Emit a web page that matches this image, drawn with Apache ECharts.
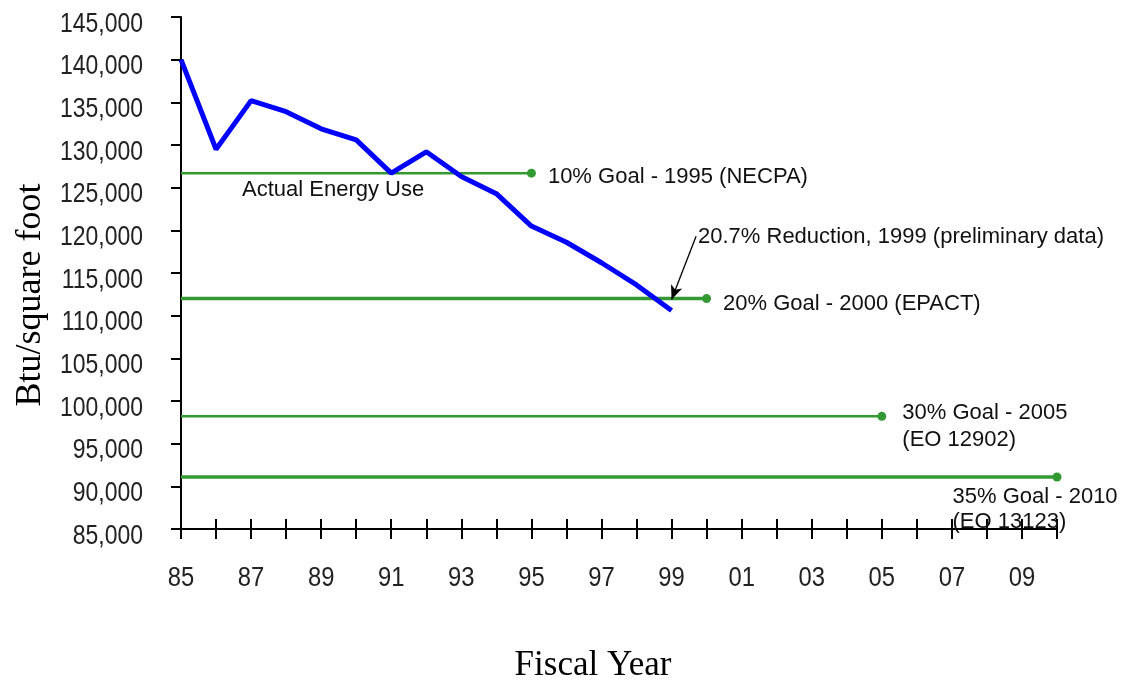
<!DOCTYPE html>
<html>
<head>
<meta charset="utf-8">
<script src="https://cdn.jsdelivr.net/npm/echarts@6/dist/echarts.min.js"></script>
<style>
html,body{margin:0;padding:0;background:#fff;}
#chart{width:1128px;height:681px;}
</style>
</head>
<body>
<div id="chart"></div>
<script>
// ---- data ----
var years = [1985,1986,1987,1988,1989,1990,1991,1992,1993,1994,1995,1996,1997,1998,1999];
var actualUse = [140000,129500,135200,133900,131900,130600,126700,129200,126300,124300,120500,118600,116200,113600,110600];
var goalNames = ['10% Goal - 1995 (NECPA)', '20% Goal - 2000 (EPACT)', '30% Goal - 2005\n(EO 12902)', '35% Goal - 2010\n(EO 13123)'];
var goalStartYear = 1985;
var goalEndYears = [1995, 2000, 2005, 2010];
var goalValues = [126700, 112000, 98200, 91100];
var yTicks = [85000,90000,95000,100000,105000,110000,115000,120000,125000,130000,135000,140000,145000];
var yTickLabels = ['85,000','90,000','95,000','100,000','105,000','110,000','115,000','120,000','125,000','130,000','135,000','140,000','145,000'];
var xLabelYears = [1985,1987,1989,1991,1993,1995,1997,1999,2001,2003,2005,2007,2009];
var xTickLabels = ['85','87','89','91','93','95','97','99','01','03','05','07','09'];
var arrowFrom = [1999.7, 119300];
var arrowTo = [1999, 111900];

var chart = echarts.init(document.getElementById('chart'));
var sans = '"Liberation Sans",Arial,sans-serif';
var serif = '"Liberation Serif","Times New Roman",serif';
var green = '#339933';

var goalWidths = [2.5, 3.5, 2.5, 3.5];
var goalLabelCfg = [
  {position:'right', distance:12, offset:[0,4]},
  {position:'right', distance:12, offset:[0,5]},
  {position:'right', distance:16, offset:[0,10]},
  {position:[-100,12], align:'left', verticalAlign:'top', lineHeight:25}
];

var series = [];
goalValues.forEach(function(v, i){
  var lc = goalLabelCfg[i];
  var lbl = {
    show:true, formatter: goalNames[i], color:'#111', fontFamily:sans, fontSize:22, lineHeight:27
  };
  for (var k in lc) lbl[k] = lc[k];
  series.push({
    type:'line', name:goalNames[i], z:2,
    data:[
      {value:[goalStartYear, v], symbol:'none'},
      {value:[goalEndYears[i], v], symbol:'circle', symbolSize:9, label:lbl}
    ],
    lineStyle:{color:green, width:goalWidths[i]},
    itemStyle:{color:green},
    animation:false
  });
});

series.push({
  type:'line', name:'Actual Energy Use', z:5,
  data: years.map(function(y, i){ return [y, actualUse[i]]; }),
  symbol:'none',
  lineStyle:{color:'#0000ff', width:5},
  animation:false,
  markLine:{
    silent:true, animation:false,
    symbol:['none','arrow'], symbolSize:[9,14],
    lineStyle:{color:'#000', width:1.3, type:'solid'},
    label:{show:false},
    data:[[{coord:arrowFrom},{coord:arrowTo}]]
  }
});

var xCommon = {
  type:'value', min:1985, max:2010, interval:1, position:'bottom',
  splitLine:{show:false}
};

chart.setOption({
  animation:false,
  backgroundColor:'#fff',
  grid:{left:181, right:71, top:17, bottom:152, containLabel:false},
  xAxis:[
    Object.assign({}, xCommon, {
      axisLine:{show:true, lineStyle:{color:'#000', width:2}},
      axisTick:{show:true, length:10, inside:false, lineStyle:{color:'#000', width:2}},
      axisLabel:{show:false}
    }),
    Object.assign({}, xCommon, {
      axisLine:{show:false},
      axisTick:{show:true, length:10, inside:true, lineStyle:{color:'#000', width:2}},
      axisLabel:{show:false}
    })
  ],
  yAxis:{
    type:'value', min:85000, max:145000, interval:5000,
    axisLine:{show:true, lineStyle:{color:'#000', width:2}},
    axisTick:{show:true, length:10, lineStyle:{color:'#000', width:2}},
    splitLine:{show:false},
    axisLabel:{show:false}
  },
  series:series
});

// Tick labels in a condensed look (scaled text), positioned through the axes' own scales
var graphics = [];
var axisX = chart.convertToPixel({xAxisIndex:0}, 1985);
yTicks.forEach(function(v, i){
  var py = chart.convertToPixel({yAxisIndex:0}, v);
  graphics.push({type:'text', x:axisX - 38, y:py + 7, scaleX:0.82,
    style:{text:yTickLabels[i], fill:'#222', font:'28px '+sans, align:'right', verticalAlign:'middle'}});
});
var axisY = chart.convertToPixel({yAxisIndex:0}, 85000);
xLabelYears.forEach(function(yr, i){
  var px = chart.convertToPixel({xAxisIndex:0}, yr);
  graphics.push({type:'text', x:px, y:axisY + 49, scaleX:0.85,
    style:{text:xTickLabels[i], fill:'#222', font:'28px '+sans, align:'center', verticalAlign:'middle'}});
});
graphics.push(
  {type:'text', left:242, top:179, style:{text:'Actual Energy Use', fill:'#111', font:'22px '+sans}},
  {type:'text', left:698, top:226, style:{text:'20.7% Reduction, 1999 (preliminary data)', fill:'#111', font:'22px '+sans}},
  {type:'text', x:31, y:295, rotation:Math.PI/2, style:{text:'Btu/square foot', fill:'#000', font:'36px '+serif, align:'center', verticalAlign:'middle'}},
  {type:'text', x:593, y:666, style:{text:'Fiscal Year', fill:'#000', font:'35px '+serif, align:'center', verticalAlign:'middle'}}
);
chart.setOption({graphic: graphics});
</script>
</body>
</html>
